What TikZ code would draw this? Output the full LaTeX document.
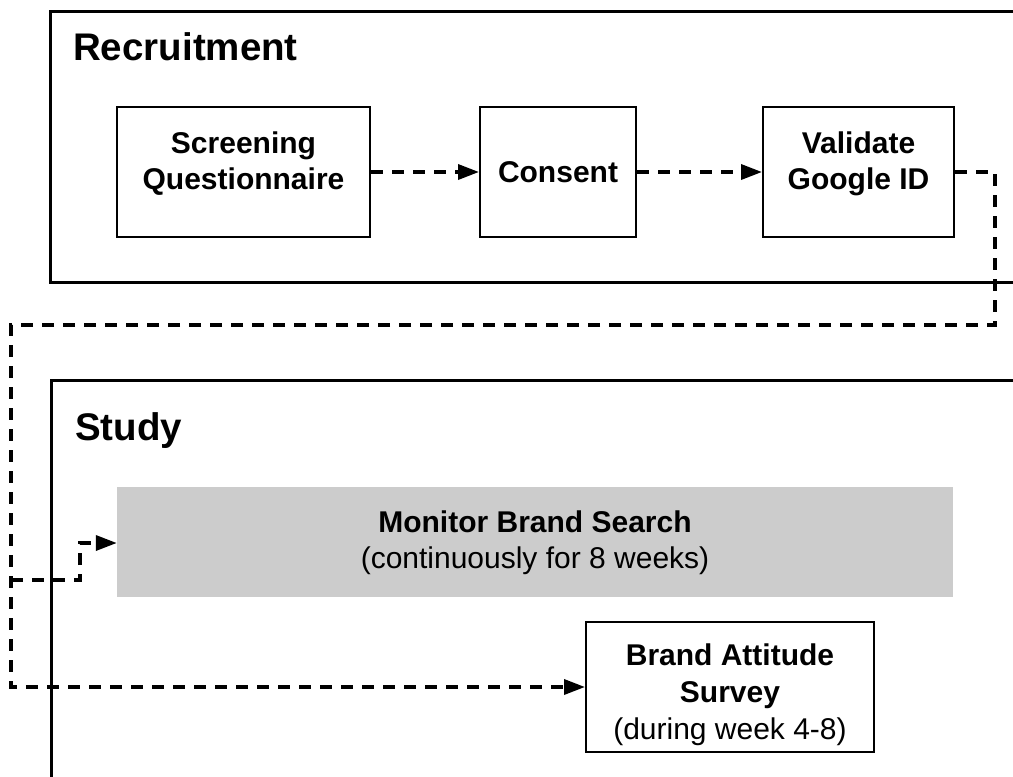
\documentclass[tikz,border=0pt]{standalone}
\usepackage{fontspec}
\setmainfont{Liberation Sans}
\usetikzlibrary{arrows.meta}
\definecolor{boxgray}{HTML}{CCCCCC}
\tikzset{
  container/.style={draw=black, line width=3pt},
  stepbox/.style={draw=black, line width=2pt, fill=white, inner sep=0pt, align=center,
    font=\fontsize{30}{36}\selectfont\bfseries},
  graybox/.style={fill=boxgray, draw=none, inner sep=0pt},
  boxtext/.style={inner sep=0pt, align=center, font=\fontsize{30}{36}\selectfont},
  title/.style={inner sep=0pt, anchor=base west, font=\fontsize{38.5}{44}\selectfont\bfseries},
  dashline/.style={draw=black, line width=3.5pt, dash pattern=on 12pt off 9pt},
  arr/.style={-{Triangle[length=21pt,width=15pt]}}
}
\begin{document}
\begin{tikzpicture}[x=1pt,y=-1pt]
\useasboundingbox (0,0) rectangle (1013,777);
\clip (0,0) rectangle (1013,777);
% containers
\draw[container] (1040,11) -- (50,11) -- (50,282) -- (1040,282);
\node[title] (trec) at (73,60) {Recruitment};
\draw[container] (1040,380) -- (51,380) -- (51,800);
\node[title] (tstudy) at (75,440) {Study};
% recruitment boxes
\node[stepbox, minimum width=253pt, minimum height=130pt] (scr) at (243.5,172) {};
\node[boxtext, font=\fontsize{30}{36}\selectfont\bfseries] (scrt) at (243.5,164) {Screening\\Questionnaire};
\node[stepbox, minimum width=156pt, minimum height=130pt] (con) at (558,172) {Consent};
\node[stepbox, minimum width=191pt, minimum height=130pt] (val) at (858.5,172) {};
\node[boxtext, font=\fontsize{30}{36}\selectfont\bfseries] (valt) at (858.5,164) {Validate\\Google ID};
% study boxes
\node[graybox, minimum width=836pt, minimum height=110pt] (mon) at (535,542) {};
\node[boxtext] (mont) at (535,543) {\textbf{Monitor Brand Search}\\(continuously for 8 weeks)};
\node[stepbox, minimum width=288pt, minimum height=130pt] (brand) at (730,687) {};
\node[boxtext, font=\fontsize{30}{37}\selectfont] (brandt) at (730,695) {\textbf{Brand Attitude}\\\textbf{Survey}\\(during week 4-8)};
% connectors
\draw[dashline, arr] (scr.east) -- (con.west);
\draw[dashline, arr] (con.east) -- (val.west);
\coordinate (v1) at (995,172);
\coordinate (v2) at (995,325);
\coordinate (v3) at (11,325);
\coordinate (v4) at (11,580);
\coordinate (v5) at (80,580);
\coordinate (v6) at (80,543);
\draw[dashline, arr] (val.east) -- (v1) -- (v2) -- (v3) -- (v3 |- brand.west) -- (brand.west);
\draw[dashline, arr] (v4) -- (v5) -- (v6) -- (v6 -| mon.west);
\end{tikzpicture}
\end{document}
